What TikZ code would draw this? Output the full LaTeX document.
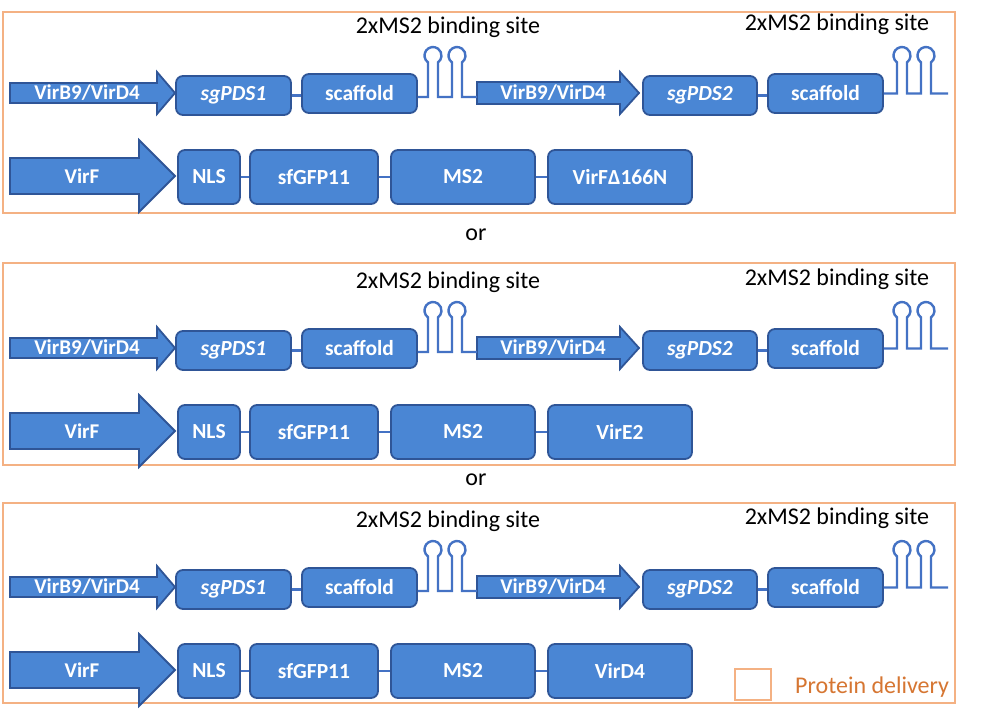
\documentclass[tikz,border=0pt]{standalone}
\usepackage{fontspec}
\setmainfont{Carlito}
\definecolor{boxfill}{RGB}{74,134,212}
\definecolor{boxline}{RGB}{47,85,151}
\definecolor{linkblue}{RGB}{68,114,196}
\definecolor{panelorange}{RGB}{244,177,131}
\definecolor{legendtext}{RGB}{214,118,50}
\tikzset{
  gbox/.style={draw=boxline, fill=boxfill, line width=1.8pt, rounded corners=7pt,
    text=white, inner sep=0pt, font=\bfseries\fontsize{21.5}{23}\selectfont},
  garrow/.style={draw=boxline, fill=boxfill, line width=1.8pt, line join=miter},
  arrowtext/.style={text=white, inner sep=0pt, font=\bfseries\fontsize{21}{23}\selectfont},
  conn/.style={draw=linkblue, line width=2.4pt},
  sitelabel/.style={text=black, inner sep=0pt, font=\fontsize{24}{26}\selectfont},
  panel/.style={draw=panelorange, line width=2.6pt},
}
\newcommand\gbox[7][]{\node[gbox,#1,minimum width={#5-#3},minimum height={#6-#4}] (#2) at ({(#3+#5)/2},{(#4+#6)/2}) {#7};}
\newcommand\panelcontent[3]{%
\begin{scope}[yshift={-#2pt}]
  % row 1
  \draw[garrow] (10,83) -- (157,83) -- (157,72) -- (175,93) -- (157,114) -- (157,103) -- (10,103) -- cycle;
  \node[arrowtext] (#1-a1) at (87,93) {VirB9/VirD4};
  \gbox[font=\bfseries\itshape\fontsize{21.5}{23}\selectfont]{#1-sg1}{176}{76}{291}{115}{sgPDS1}
  \gbox{#1-sc1}{302}{74}{417}{113}{scaffold}
  \draw[conn] (#1-sg1.east) -- (#1-sg1.east -| #1-sc1.west);
  \draw[garrow] (477,82) -- (620,82) -- (620,72) -- (639,93) -- (620,114) -- (620,104) -- (477,104) -- cycle;
  \node[arrowtext] (#1-a2) at (553,93) {VirB9/VirD4};
  \coordinate (#1-a2s) at (477,97);
  \draw[conn] ([yshift=-3.5pt]#1-sc1.east) -- (428,97) -- (428,62.4)
    arc[start angle=234,end angle=-54,radius=8.5pt] -- (438,97) -- (452,97) -- (452,62.4)
    arc[start angle=234,end angle=-54,radius=8.5pt] -- (462,97) -- (#1-a2s);
  \gbox[font=\bfseries\itshape\fontsize{21.5}{23}\selectfont]{#1-sg2}{643}{76}{757}{115}{sgPDS2}
  \gbox{#1-sc2}{768}{74}{883}{113}{scaffold}
  \draw[conn] (#1-sg2.east) -- (#1-sg2.east -| #1-sc2.west);
  \coordinate (#1-end) at (948,93.5);
  \draw[conn] (#1-sc2.east) -- (897,93.5) -- (897,62.4)
    arc[start angle=234,end angle=-54,radius=8.5pt] -- (907,93.5) -- (921,93.5) -- (921,62.4)
    arc[start angle=234,end angle=-54,radius=8.5pt] -- (931,93.5) -- (#1-end);
  \node[sitelabel] (#1-l1) at (448,27) {2xMS2 binding site};
  \node[sitelabel] (#1-l2) at (837,24) {2xMS2 binding site};
  % row 2
  \draw[garrow] (10,158) -- (139,158) -- (139,140) -- (175,176) -- (139,212) -- (139,194) -- (10,194) -- cycle;
  \node[arrowtext] (#1-vf) at (82,176) {VirF};
  \gbox{#1-nls}{178}{150}{240}{204}{NLS}
  \gbox{#1-sf}{250}{150}{378}{204}{sfGFP11}
  \gbox{#1-ms}{391}{150}{535}{204}{MS2}
  \gbox{#1-last}{548}{150}{692}{204}{#3}
  \draw[conn] (#1-nls) -- (#1-sf);
  \draw[conn] (#1-sf) -- (#1-ms);
  \draw[conn] (#1-ms) -- (#1-last);
\end{scope}}
\begin{document}
\begin{tikzpicture}[x=1pt,y=-1pt]
  \useasboundingbox (0,0) rectangle (1002,714);
  \fill[white] (0,0) rectangle (1002,714);
  \draw[panel] (3,12) rectangle (955,213);
  \draw[panel] (3,263) rectangle (955,465);
  \draw[panel] (3,503) rectangle (955,703);
  \panelcontent{p1}{0}{VirFΔ166N}
  \panelcontent{p2}{255}{VirE2}
  \panelcontent{p3}{494}{VirD4}
  \node[sitelabel] (or1) at (476,235) {or};
  \node[sitelabel] (or2) at (476,480) {or};
  \node[draw=panelorange, line width=2pt, minimum width=36pt, minimum height=31pt, inner sep=0pt] (leg) at (753,684.5) {};
  \node[sitelabel, text=legendtext, anchor=west] (legt) at (795,687) {Protein delivery};
\end{tikzpicture}
\end{document}
